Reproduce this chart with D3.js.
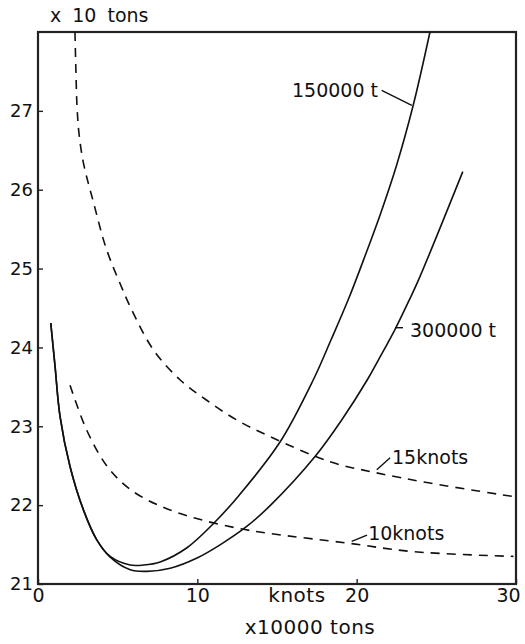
<!DOCTYPE html>
<html lang="en">
<head>
  <meta charset="UTF-8">
  <title>Tons per knots</title>
  <script src="https://d3js.org/d3.v7.min.js"></script>
  <style>
    body {
      margin: 0;
      background: white;
    }
    svg {
      display: block;
    }
    text {
      font-family: "DejaVu Sans", sans-serif;
      fill: #111;
    }
    .curve {
      fill: none;
      stroke: #111;
      stroke-width: 1.6px;
    }
    .dashed {
      stroke-dasharray: 9, 7;
    }
  </style>
</head>
<body>
  <svg width="525" height="644"></svg>

  <script>
    // x: size (x10000 tons) / speed (knots), y: cost (x10 tons)
    const ton150000 = [
      [0.8, 24.31], [1.07, 23.76], [1.38, 23.13], [2.01, 22.49], [2.85, 21.94],
      [3.69, 21.56], [4.53, 21.35], [5.79, 21.24], [6.62, 21.24], [7.67, 21.28],
      [9.35, 21.46], [11.03, 21.77], [12.6, 22.12], [15.19, 22.8], [17.28, 23.59],
      [18.4, 24.1], [19.5, 24.62], [20.45, 25.12], [21.47, 25.68], [22.52, 26.32],
      [23.56, 27.08], [24.6, 28.0]
    ];
    const ton300000 = [
      [0.8, 24.31], [1.07, 23.76], [1.38, 23.13], [2.01, 22.49], [2.85, 21.94],
      [3.69, 21.56], [4.53, 21.34], [5.79, 21.18], [6.84, 21.16], [8.3, 21.2],
      [9.98, 21.33], [11.45, 21.5], [13.1, 21.73], [14.6, 22.0], [17.4, 22.62],
      [19.06, 23.08], [20.67, 23.59], [21.36, 23.84], [22.41, 24.23], [23.25, 24.58],
      [23.87, 24.85], [26.66, 26.23]
    ];
    const knots15 = [
      [2.32, 28.0], [2.38, 27.5], [2.45, 27.05], [2.58, 26.7], [2.84, 26.35],
      [3.16, 26.08], [3.47, 25.85], [3.79, 25.6], [4.1, 25.37], [4.52, 25.12],
      [5.15, 24.81], [5.78, 24.52], [7.24, 23.97], [8.91, 23.59], [10.59, 23.33],
      [12.47, 23.08], [14.56, 22.87], [18.33, 22.55], [21.0, 22.42], [24.6, 22.28],
      [29.8, 22.11]
    ];
    const knots10 = [
      [2.01, 23.52], [3.06, 22.95], [4.31, 22.5], [5.78, 22.2], [7.66, 21.99],
      [9.96, 21.83], [12.47, 21.71], [14.56, 21.64], [19.38, 21.52], [23.56, 21.41],
      [29.84, 21.35]
    ];

    const xTicks = [0, 10, 20, 30];
    const yTicks = [21, 22, 23, 24, 25, 26, 27];

    // label text, anchor point and leader line, all in data units
    const labels = [
      { text: "150000 t", x: 18.64, y: 27.26, anchor: "middle", lead: [[21.57, 27.26], [23.46, 27.07]] },
      { text: "300000 t", x: 23.35, y: 24.22, anchor: "start", lead: [[22.41, 24.25], [22.91, 24.25]] },
      { text: "15knots", x: 22.22, y: 22.61, anchor: "start", lead: [[21.26, 22.45], [22.1, 22.6]] },
      { text: "10knots", x: 20.72, y: 21.65, anchor: "start", lead: [[19.69, 21.54], [20.65, 21.62]] }
    ];

    const svg = d3.select("svg");
    const m = { left: 38, right: 516, top: 32, bottom: 584 };

    const x = d3.scaleLinear().domain([0, 30]).range([m.left, m.right]);
    const y = d3.scaleLinear().domain([21, 28]).range([m.bottom, m.top]);

    const line = d3.line()
      .x(d => x(d[0]))
      .y(d => y(d[1]))
      .curve(d3.curveCatmullRom.alpha(0.5));

    // frame
    svg.append("rect")
      .attr("x", m.left).attr("y", m.top)
      .attr("width", m.right - m.left).attr("height", m.bottom - m.top)
      .attr("fill", "none")
      .attr("stroke", "#222")
      .attr("stroke-width", 2.2);

    const yAxis = svg.append("g")
      .attr("transform", `translate(${m.left},0)`)
      .call(d3.axisLeft(y).tickValues(yTicks).tickFormat(d3.format("d"))
        .tickSizeInner(-5).tickSizeOuter(0).tickPadding(5));
    yAxis.select(".domain").remove();
    yAxis.selectAll("text").attr("font-size", 18).attr("font-family", "DejaVu Sans");
    yAxis.selectAll("line").attr("stroke", "#222").attr("stroke-width", 1.4);

    const xAxis = svg.append("g")
      .attr("transform", `translate(0,${m.bottom})`)
      .call(d3.axisBottom(x).tickValues(xTicks).tickFormat(d3.format("d"))
        .tickSizeInner(-5).tickSizeOuter(0).tickPadding(4));
    xAxis.select(".domain").remove();
    xAxis.selectAll("text").attr("font-size", 19).attr("font-family", "DejaVu Sans")
      .attr("dx", d => d === 30 ? -8 : 0);
    xAxis.selectAll("line").attr("stroke", "#222").attr("stroke-width", 1.4);

    // curves
    svg.append("path").attr("class", "curve").attr("d", line(ton150000));
    svg.append("path").attr("class", "curve").attr("d", line(ton300000));
    svg.append("path").attr("class", "curve dashed").attr("d", line(knots15));
    svg.append("path").attr("class", "curve dashed").attr("d", line(knots10));

    // curve labels
    const lab = svg.append("g");
    labels.forEach(l => {
      lab.append("line")
        .attr("x1", x(l.lead[0][0])).attr("y1", y(l.lead[0][1]))
        .attr("x2", x(l.lead[1][0])).attr("y2", y(l.lead[1][1]))
        .attr("stroke", "#111").attr("stroke-width", 1.4);
      lab.append("text")
        .attr("x", x(l.x)).attr("y", y(l.y))
        .attr("dy", "0.36em")
        .attr("text-anchor", l.anchor)
        .attr("font-size", 19)
        .text(l.text);
    });

    // axis titles
    svg.append("text")
      .attr("x", 50).attr("y", 15).attr("dy", "0.36em")
      .attr("font-size", 19)
      .attr("word-spacing", 5)
      .text("x 10 tons");

    svg.append("text")
      .attr("x", 297).attr("y", 595).attr("dy", "0.36em")
      .attr("text-anchor", "middle")
      .attr("font-size", 20)
      .attr("letter-spacing", 0.5)
      .text("knots");

    svg.append("text")
      .attr("x", 310).attr("y", 627).attr("dy", "0.36em")
      .attr("text-anchor", "middle")
      .attr("font-size", 20)
      .attr("letter-spacing", 0.5)
      .text("x10000 tons");
  </script>
</body>
</html>
